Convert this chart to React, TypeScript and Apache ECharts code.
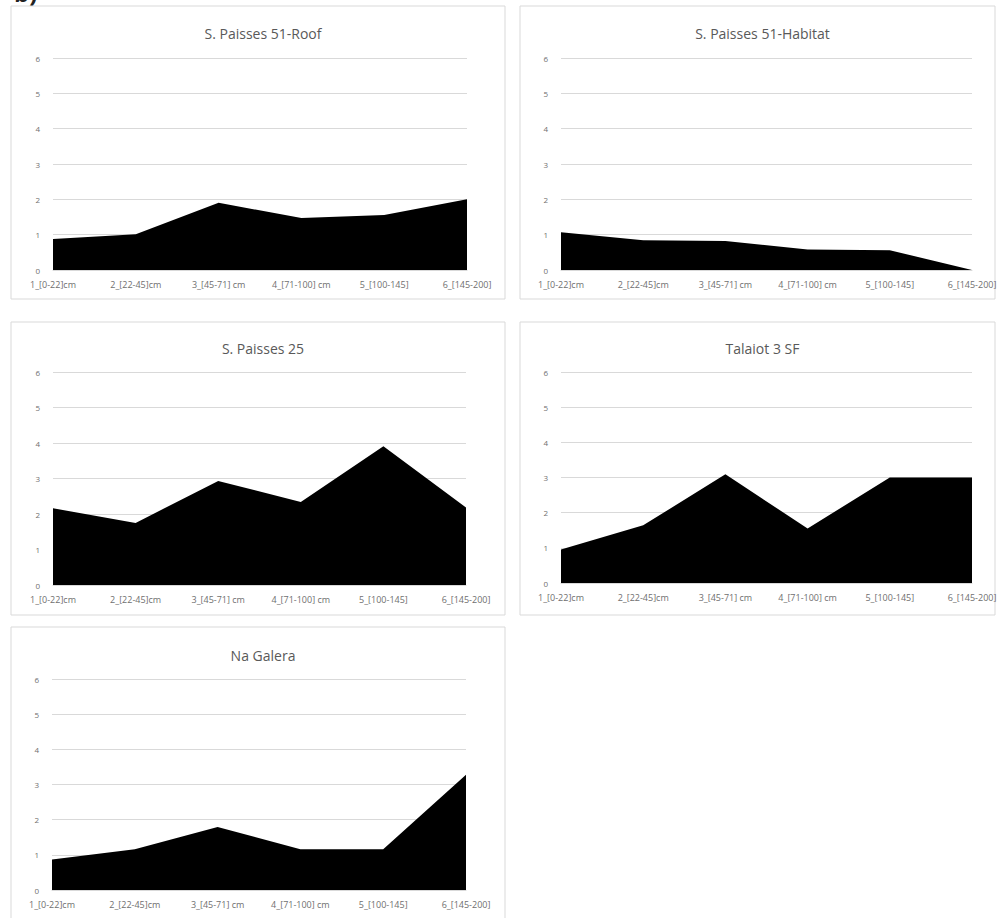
import React, { useEffect, useRef } from "react";
import * as echarts from "echarts";

const categories = ["1_[0-22]cm", "2_[22-45]cm", "3_[45-71] cm", "4_[71-100] cm", "5_[100-145]", "6_[145-200]"];
const yTicks = [0, 1, 2, 3, 4, 5, 6];

const titles = ["S. Paisses 51-Roof", "S. Paisses 51-Habitat", "S. Paisses 25", "Talaiot 3 SF", "Na Galera"];
const roof51 = [0.88, 1.01, 1.9, 1.47, 1.56, 2.0];
const habitat51 = [1.07, 0.84, 0.82, 0.58, 0.56, 0];
const paisses25 = [2.16, 1.75, 2.93, 2.34, 3.91, 2.18];
const talaiot3 = [0.95, 1.64, 3.09, 1.55, 3.0, 3.0];
const naGalera = [0.87, 1.16, 1.79, 1.16, 1.16, 3.28];
const seriesData = [roof51, habitat51, paisses25, talaiot3, naGalera];

// layout of each panel: box and plot rectangles (pixels)
const panels = [
  { bx: 11, by: 6, bw: 494, bh: 293, px: 53, py: 58, pw: 414, ph: 212, ty: 21 },
  { bx: 520, by: 6, bw: 475, bh: 293, px: 561, py: 58, pw: 411, ph: 212, ty: 21 },
  { bx: 11, by: 322, bw: 494, bh: 293, px: 53, py: 372, pw: 413, ph: 213, ty: 336 },
  { bx: 520, by: 322, bw: 475, bh: 293, px: 561, py: 372, pw: 411, ph: 211, ty: 336 },
  { bx: 11, by: 627, bw: 494, bh: 300, px: 52, py: 679, pw: 414, ph: 211, ty: 643 },
];

const FONT = "'Open Sans', 'Noto Sans', sans-serif";

export default function App() {
  const ref = useRef<HTMLDivElement>(null);
  useEffect(() => {
    if (!ref.current) return;
    const chart = echarts.init(ref.current, undefined, { renderer: "svg" });
    const option: any = {
      animation: false,
      backgroundColor: "#ffffff",
      title: panels.map((p, i) => ({
        text: titles[i],
        left: p.bx + p.bw / 2,
        top: p.ty,
        textAlign: "center",
        textStyle: { fontFamily: FONT, fontSize: 14, fontWeight: "normal", color: "#595959" },
      })),
      graphic: [
        ...panels.map((p) => ({
          type: "rect",
          shape: { x: p.bx, y: p.by, width: p.bw, height: p.bh },
          style: { fill: "none", stroke: "#d9d9d9", lineWidth: 1 },
          silent: true,
          z: -1,
        })),
        {
          type: "text",
          left: 14,
          top: -20,
          style: { text: "b)", fontFamily: FONT, fontSize: 24, fontWeight: "bold", fill: "#222" },
        },
      ],
      grid: panels.map((p) => ({ left: p.px, top: p.py, width: p.pw, height: p.ph, containLabel: false })),
      xAxis: panels.map((_, i) => ({
        type: "category",
        gridIndex: i,
        data: categories,
        boundaryGap: false,
        axisLine: { show: true, lineStyle: { color: "#d9d9d9" } },
        axisTick: { show: false },
        axisLabel: { fontFamily: FONT, fontSize: 9, color: "#6f6f6f", margin: 10, interval: 0 },
        splitLine: { show: false },
      })),
      yAxis: panels.map((_, i) => ({
        type: "value",
        gridIndex: i,
        min: yTicks[0],
        max: yTicks[yTicks.length - 1],
        interval: 1,
        axisLine: { show: false },
        axisTick: { show: false },
        axisLabel: { fontFamily: FONT, fontSize: 8, color: "#6f6f6f", margin: 13 },
        splitLine: { show: true, lineStyle: { color: "#d9d9d9", width: 1 } },
      })),
      series: seriesData.map((d, i) => ({
        type: "line",
        xAxisIndex: i,
        yAxisIndex: i,
        data: d,
        symbol: "none",
        lineStyle: { width: 0, color: "#000" },
        areaStyle: { color: "#000", opacity: 1 },
        z: 3,
      })),
    };
    chart.setOption(option);
    return () => chart.dispose();
  }, []);
  return (
    <div
      ref={ref}
      style={{ position: "fixed", left: 0, top: 0, width: 1003, height: 918, background: "#fff" }}
    />
  );
}
